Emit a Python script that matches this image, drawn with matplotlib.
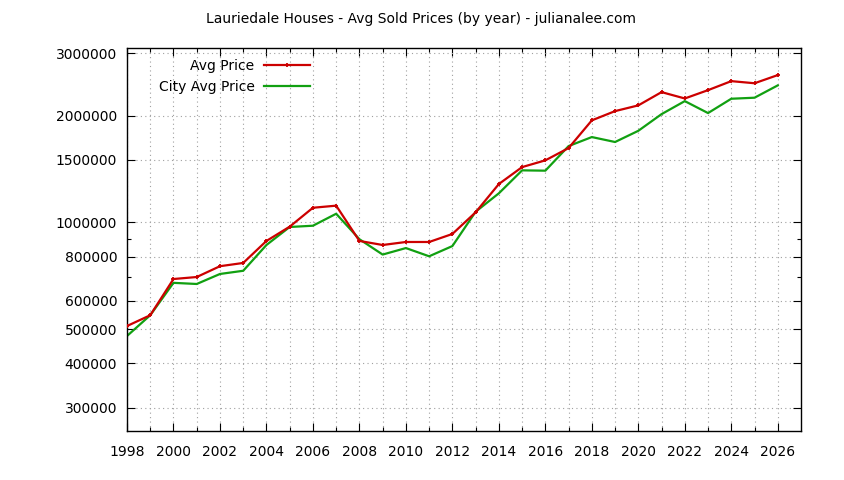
import matplotlib
matplotlib.use("Agg")
import matplotlib.pyplot as plt
from matplotlib.ticker import FixedLocator, NullFormatter, FixedFormatter

years = list(range(1998, 2027))
avg_price = [510000, 547000, 692000, 701000, 752000, 768000, 886000, 972000, 1099000, 1114000,
             886000, 863000, 880000, 880000, 927000, 1067000, 1282000, 1431000, 1495000, 1619000,
             1938000, 2058000, 2136000, 2328000, 2234000, 2358000, 2500000, 2466000, 2600000]
city_avg_price = [478000, 547000, 675000, 670000, 715000, 730000, 863000, 970000, 978000, 1057000,
                  896000, 811000, 846000, 802000, 857000, 1071000, 1207000, 1401000, 1398000, 1640000,
                  1739000, 1684000, 1811000, 2018000, 2196000, 2032000, 2230000, 2245000, 2432000]
y_ticks = [300000, 400000, 500000, 600000, 800000, 1000000, 1500000, 2000000, 3000000]
y_minor = [700000, 900000]
x_major = list(range(1998, 2027, 2))
x_minor = list(range(1999, 2027, 2))
title = "Lauriedale Houses - Avg Sold Prices (by year) - julianalee.com"

plt.rcParams['font.family'] = ['DejaVu Sans']
fig = plt.figure(figsize=(8.44, 4.8), dpi=100)
ax = fig.add_axes([127/844, 49/480, 674/844, 383/480])

ax.set_yscale('log')
ax.set_xlim(1998, 2027)
ax.set_ylim(258000, 3100000)

ax.plot(years, avg_price, color='#cc0000', lw=1.6, marker='+', ms=3, mew=1.3, label='Avg Price', zorder=3)
ax.plot(years, city_avg_price, color='#11a011', lw=1.6, label='City Avg Price', zorder=2)

ax.yaxis.set_major_locator(FixedLocator(y_ticks))
ax.yaxis.set_major_formatter(FixedFormatter([str(v) for v in y_ticks]))
ax.yaxis.set_minor_locator(FixedLocator(y_minor))
ax.yaxis.set_minor_formatter(NullFormatter())
ax.xaxis.set_major_locator(FixedLocator(x_major))
ax.xaxis.set_minor_locator(FixedLocator(x_minor))

ax.tick_params(which='both', direction='in', top=True, right=True, labelsize=10, colors='black')
ax.tick_params(which='major', length=6, width=0.8)
ax.tick_params(which='minor', length=3, width=0.8)
ax.tick_params(axis='y', pad=7)
ax.tick_params(axis='x', pad=10)

ax.grid(True, which='major', axis='y', color='#a0a0a0', lw=0.8, linestyle=(0, (1, 3)))
ax.grid(True, which='both', axis='x', color='#a0a0a0', lw=0.8, linestyle=(0, (1, 3)))
for s in ax.spines.values():
    s.set_linewidth(1.0)

leg = ax.legend(loc='upper right', bbox_to_anchor=(0.2715, 0.972), frameon=False,
                markerfirst=False, alignment='right', fontsize=10, handlelength=3.3,
                handletextpad=0.7, labelspacing=0.5, borderpad=0, borderaxespad=0)

fig.text(421/844, 1 - 19/480, title, ha='center', va='center', fontsize=10)

fig.savefig('out.png', dpi=100)
